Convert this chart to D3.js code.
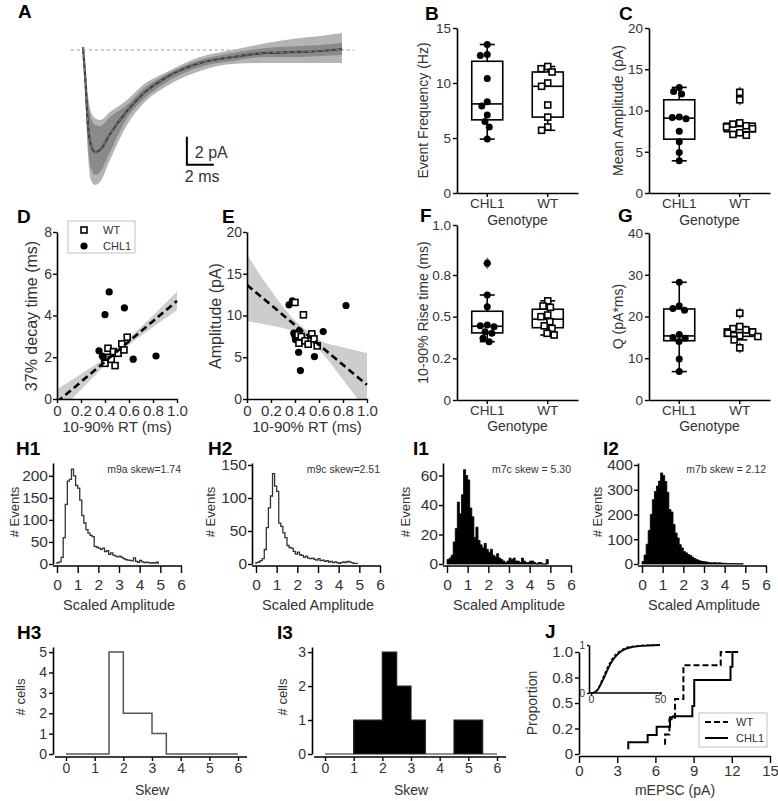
<!DOCTYPE html>
<html>
<head>
<meta charset="utf-8">
<script src="https://cdn.jsdelivr.net/npm/d3@7"></script>
<style>
  body { margin: 0; background: #fff; }
  svg text { font-family: "Liberation Sans", Arial, sans-serif; }
</style>
</head>
<body>
<script>
const FONT = '"Liberation Sans", Arial, sans-serif';

// ---- A: average mEPSC trace (ms, pA) ----
const traceT     = [0, 0.15, 0.37, 0.59, 0.89, 1.26, 2.0, 3.26, 4.44, 6.22, 8.67, 11.1, 13.6, 16.1, 17.6, 19.2];
const traceMean  = [0.21, -1.79, -5.36, -6.79, -7.29, -7.14, -6.0, -4.36, -3.14, -1.93, -0.93, -0.5, -0.21, -0.14, -0.07, 0.07];
const innerHi    = [0.29, -1.07, -3.57, -4.86, -5.36, -5.43, -4.79, -3.93, -2.79, -1.71, -0.71, -0.21, 0.14, 0.29, 0.36, 0.5];
const innerLo    = [0.14, -2.5, -6.79, -8.43, -8.93, -8.71, -7.29, -4.86, -3.57, -2.29, -1.21, -0.79, -0.5, -0.5, -0.43, -0.36];
const outerHi    = [0.36, -0.71, -3.21, -4.43, -4.86, -5.0, -4.43, -3.57, -2.5, -1.57, -0.5, 0.0, 0.5, 0.86, 1.0, 1.21];
const outerLo    = [0.07, -2.86, -7.5, -9.29, -9.64, -9.43, -7.86, -5.36, -3.86, -2.57, -1.5, -1.0, -0.93, -0.93, -0.93, -0.93];

// ---- box plots B, C, F, G ----
const groups  = ["CHL1", "WT"];
const freqChl = [4.9, 6.0, 6.5, 7.1, 7.9, 8.3, 10.4, 12.5, 12.6, 13.5];
const freqWt  = [5.7, 6.0, 6.9, 8.0, 9.7, 10.0, 11.0, 11.3, 11.5];
const ampChl  = [3.9, 4.9, 6.2, 7.5, 9.0, 9.15, 9.2, 12.0, 12.3, 12.8];
const ampWt   = [7.0, 7.1, 7.3, 7.8, 8.0, 8.15, 8.35, 8.5, 11.3, 12.2];
const riseChl = [0.35, 0.37, 0.40, 0.41, 0.44, 0.445, 0.45, 0.56, 0.63, 0.82];
const riseWt  = [0.39, 0.40, 0.43, 0.445, 0.47, 0.50, 0.51, 0.556, 0.564, 0.595];
const qChl    = [6.8, 9.8, 14.0, 14.8, 15.0, 15.7, 21.5, 21.9, 22.6, 28.2];
const qWt     = [12.5, 14.4, 15.2, 15.4, 16.0, 16.3, 16.8, 17.1, 17.6, 20.8];

// ---- scatter D, E ----
const rtWt     = [0.40, 0.425, 0.433, 0.452, 0.47, 0.484, 0.51, 0.54, 0.558, 0.585];
const decayWt  = [1.71, 2.43, 2.0, 1.9, 2.27, 1.6, 2.19, 2.64, 2.35, 2.96];
const ampEWt   = [11.56, 7.68, 6.68, 7.48, 10.08, 6.96, 6.56, 7.8, 7.2, 6.36];
const rtChl    = [0.35, 0.378, 0.39, 0.40, 0.405, 0.43, 0.435, 0.445, 0.562, 0.635, 0.825];
const decayChl = [2.31, 2.06, 1.95, 4.04, 1.85, 1.98, 5.13, 2.0, 4.37, 1.91, 2.06];
const ampEChl  = [11.28, 11.76, 7.88, 7.48, 7.1, 5.6, 8.16, 3.4, 5.08, 8.08, 11.2];
// regression fit and confidence band (WT)
const fitX = [0, 0.2, 0.4, 0.5, 0.6, 0.8, 1.0];
const dFit = [-0.15, 0.82, 1.79, 2.28, 2.76, 3.73, 4.7];
const dLo  = [-0.75, 0.45, 1.62, 2.15, 2.6, 3.45, 4.25];
const dHi  = [0.45, 1.2, 1.96, 2.4, 2.92, 4.0, 5.15];
const eFit = [13.65, 11.26, 8.87, 7.68, 6.48, 4.09, 1.7];
const eLo  = [9.3, 8.8, 8.0, 7.1, 5.9, 2.3, -1.5];
const eHi  = [17.3, 13.0, 9.4, 8.2, 7.1, 6.2, 5.5];

// ---- amplitude histograms (bins of 0.1 from 0) ----
const histH1 = [3, 5, 15, 60, 135, 188, 192, 215, 200, 178, 172, 145, 110, 93, 78, 70, 65, 62, 40, 38,
  36, 33, 36, 28, 30, 22, 25, 20, 18, 16, 18, 15, 12, 10, 9, 8, 7, 14, 6, 4, 8, 5, 3, 4, 3, 2, 3, 2, 4];
const histH2 = [2, 3, 5, 8, 22, 55, 85, 103, 137, 118, 110, 62, 57, 47, 40, 28, 25, 24, 19, 15,
  18, 14, 13, 10, 12, 9, 8, 9, 7, 6, 8, 5, 6, 4, 5, 3, 4, 2, 3, 2, 1, 2, 3, 2, 4, 3, 2, 1, 1];
const histI1 = [3, 4, 6, 15, 24, 42, 34, 47, 64, 60, 57, 38, 32, 18, 25, 16, 13, 11, 14, 10,
  8, 10, 6, 5, 7, 4, 3, 2, 1, 2, 4, 3, 4, 2, 2, 1, 4, 2, 1, 1, 2, 2, 1, 0, 1, 1, 0, 0, 3];
const histI2 = [10, 36, 80, 135, 200, 260, 293, 315, 335, 368, 358, 333, 290, 220, 210, 160, 125, 105, 78, 65,
  50, 45, 38, 35, 28, 22, 18, 15, 12, 10, 9, 8, 6, 5, 5, 6, 4, 5, 4, 3, 3, 2, 2, 2, 2, 1, 1, 1, 1];

// ---- skew histograms (bins of 0.5 from 0) ----
const skewWt  = [0, 0, 0, 5, 2, 2, 1, 0, 0, 0, 0, 0];
const skewChl = [0, 0, 1, 1, 3, 2, 1, 0, 0, 1, 1, 0];

// ---- J: cumulative distributions ----
const jWtX  = [6.76, 7.1, 7.54, 8.2, 11.13, 12.0];
const jWtY  = [0.09, 0.19, 0.34, 0.54, 0.87, 1.0];
const jChlX = [3.87, 5.39, 6.1, 7.15, 7.4, 8.9, 9.05, 11.9, 12.05, 12.5];
const jChlY = [0.046, 0.115, 0.186, 0.268, 0.36, 0.37, 0.47, 0.725, 0.856, 1.0];
const insetX   = [0, 2, 4, 6, 8, 10, 12, 15, 18, 22, 26, 30, 36, 42, 50];
const insetChl = [0, 0.01, 0.04, 0.12, 0.23, 0.35, 0.48, 0.65, 0.77, 0.87, 0.93, 0.96, 0.98, 0.99, 1.0];
const insetWt  = [0, 0.01, 0.05, 0.15, 0.28, 0.41, 0.54, 0.70, 0.81, 0.90, 0.95, 0.97, 0.99, 1.0, 1.0];

const svg = d3.select("body").append("svg").attr("width", 778).attr("height", 801);
const intFmt = d3.format("d");

function text(x, y, s, o = {}) {
  const t = svg.append("text").attr("x", x).attr("y", y).text(s)
    .attr("font-size", o.size || 14)
    .attr("text-anchor", o.anchor || "start")
    .attr("fill", o.fill || "#333");
  if (o.bold) t.attr("font-weight", "bold");
  if (o.rot) t.attr("transform", `rotate(${o.rot},${x},${y})`).attr("dy", "0.35em");
  return t;
}
function letter(x, y, s) { text(x, y, s, { size: 19, bold: true, fill: "#000" }); }

function styleAxis(sel, size) {
  sel.attr("font-family", FONT).attr("font-size", size);
  sel.select(".domain").attr("stroke", "#000").attr("stroke-width", 1.6);
  sel.selectAll(".tick line").attr("stroke", "#000").attr("stroke-width", 1.4);
  sel.selectAll(".tick text").attr("fill", "#333");
}

// ===== A =====
(function () {
  const x = d3.scaleLinear().domain([0, 19.2]).range([83, 342]);
  const y = d3.scaleLinear().domain([0, -8]).range([50, 162]);
  const idx = d3.range(traceT.length);
  const area = (lo, hi) => d3.area().x(i => x(traceT[i])).y0(i => y(lo[i])).y1(i => y(hi[i])).curve(d3.curveMonotoneX);
  svg.append("line").attr("x1", x(-0.9)).attr("x2", x(20.1)).attr("y1", y(0)).attr("y2", y(0))
    .attr("stroke", "#999").attr("stroke-width", 1).attr("stroke-dasharray", "3,3");
  svg.append("path").attr("d", area(outerLo, outerHi)(idx)).attr("fill", "#b4b4b4");
  svg.append("path").attr("d", area(innerLo, innerHi)(idx)).attr("fill", "#8a8a8a");
  const line = d3.line().x(i => x(traceT[i])).y(i => y(traceMean[i])).curve(d3.curveMonotoneX);
  svg.append("path").attr("d", line(idx)).attr("fill", "none").attr("stroke", "#3c3c3c").attr("stroke-width", 2.2);
  svg.append("path").attr("d", line(idx)).attr("fill", "none").attr("stroke", "#888").attr("stroke-width", 1).attr("stroke-dasharray", "4,3");
  // scale bar 2 pA / 2 ms
  svg.append("path").attr("d", `M${x(7.7)},${y(-6.2)}V${y(-8.2)}H${x(9.7)}`)
    .attr("fill", "none").attr("stroke", "#000").attr("stroke-width", 2);
  text(x(7.7) + 8, 158, "2 pA", { size: 16 });
  text(x(7.7) - 2, 182, "2 ms", { size: 16 });
  letter(18, 18, "A");
})();

// ===== box plots =====
function swarm(vals, y, cx, d) {
  const pts = vals.map(v => ({ v, y: y(v) })).sort((a, b) => a.y - b.y);
  const placed = [];
  pts.forEach(p => {
    const blocks = placed.filter(q => Math.abs(q.y - p.y) < d).map(q => {
      const w = Math.sqrt(d * d - (q.y - p.y) ** 2);
      return [q.x - w, q.x + w];
    });
    const cands = [cx];
    blocks.forEach(b => cands.push(b[0], b[1]));
    const ok = cands.filter(c => blocks.every(b => c <= b[0] + 0.01 || c >= b[1] - 0.01));
    ok.sort((a, b) => Math.abs(a - cx) - Math.abs(b - cx) || a - b);
    p.x = ok[0];
    placed.push(p);
  });
  return pts;
}

function boxPanel(o) {
  const x = d3.scaleBand().domain(groups).range([o.x0, o.x1]);
  const y = d3.scaleLinear().domain(o.domain).range([o.yb, o.yt]);
  const ya = svg.append("g").attr("transform", `translate(${o.x0},0)`)
    .call(d3.axisLeft(y).tickValues(o.ticks).tickFormat((d, i) => o.tickText[i]).tickSize(4).tickPadding(2).tickSizeOuter(0));
  styleAxis(ya, 13.5);
  const xa = svg.append("g").attr("transform", `translate(0,${o.yb})`)
    .call(d3.axisBottom(x).tickSize(4).tickPadding(1).tickSizeOuter(0));
  styleAxis(xa, 13.5);

  [o.chl, o.wt].forEach((vals, k) => {
    const cx = x(groups[k]) + x.bandwidth() / 2;
    const s = vals.slice().sort(d3.ascending);
    const q1 = d3.quantile(s, 0.25), q2 = d3.quantile(s, 0.5), q3 = d3.quantile(s, 0.75);
    const iqr = q3 - q1;
    const inside = s.filter(v => v >= q1 - 1.5 * iqr && v <= q3 + 1.5 * iqr);
    const wLo = d3.min(inside), wHi = d3.max(inside);
    const outl = s.filter(v => v < q1 - 1.5 * iqr || v > q3 + 1.5 * iqr);
    const bw = 31, cw = 15;
    const g = svg.append("g").attr("stroke", "#000").attr("stroke-width", 1.6);
    g.append("line").attr("x1", cx).attr("x2", cx).attr("y1", y(q3)).attr("y2", y(wHi));
    g.append("line").attr("x1", cx).attr("x2", cx).attr("y1", y(q1)).attr("y2", y(wLo));
    g.append("line").attr("x1", cx - cw / 2).attr("x2", cx + cw / 2).attr("y1", y(wHi)).attr("y2", y(wHi));
    g.append("line").attr("x1", cx - cw / 2).attr("x2", cx + cw / 2).attr("y1", y(wLo)).attr("y2", y(wLo));
    g.append("rect").attr("x", cx - bw / 2).attr("y", y(q3)).attr("width", bw).attr("height", y(q1) - y(q3)).attr("fill", "#fff");
    g.append("line").attr("x1", cx - bw / 2).attr("x2", cx + bw / 2).attr("y1", y(q2)).attr("y2", y(q2));
    outl.forEach(v => {
      svg.append("path").attr("d", `M${cx},${y(v) - 6}L${cx + 4},${y(v)}L${cx},${y(v) + 6}L${cx - 4},${y(v)}Z`).attr("fill", "#6e6e6e");
    });
    swarm(vals, y, cx, 7).forEach(p => {
      if (k === 0) svg.append("circle").attr("cx", p.x).attr("cy", p.y).attr("r", 3.5).attr("fill", "#000");
      else svg.append("rect").attr("x", p.x - 3).attr("y", p.y - 3).attr("width", 6).attr("height", 6)
        .attr("fill", "#fff").attr("stroke", "#000").attr("stroke-width", 1.6);
    });
  });
  text(o.ylx, (o.yb + o.yt) / 2, o.ylabel, { size: 14, anchor: "middle", rot: -90 });
  text((o.x0 + o.x1) / 2, o.xly, "Genotype", { size: 14, anchor: "middle" });
  letter(o.lx, o.ly, o.letter);
}

boxPanel({ x0: 457, x1: 578, yb: 193, yt: 28, domain: [0, 15], ticks: [0, 5, 10, 15], tickText: ["0", "5", "10", "15"],
  chl: freqChl, wt: freqWt, ylabel: "Event Frequency (Hz)", ylx: 423, xly: 225, letter: "B", lx: 425, ly: 20 });
boxPanel({ x0: 649, x1: 770, yb: 193, yt: 28, domain: [0, 20], ticks: [0, 5, 10, 15, 20], tickText: ["0", "5", "10", "15", "20"],
  chl: ampChl, wt: ampWt, ylabel: "Mean Amplitude (pA)", ylx: 618, xly: 225, letter: "C", lx: 619, ly: 20 });
boxPanel({ x0: 457, x1: 578, yb: 400, yt: 225, domain: [0, 1.05], ticks: [0, 0.25, 0.5, 0.75, 1.05], tickText: ["0", "0.2", "0.5", "0.8", "1.0"],
  chl: riseChl, wt: riseWt, ylabel: "10-90% Rise time (ms)", ylx: 423, xly: 431, letter: "F", lx: 420, ly: 222 });
boxPanel({ x0: 649, x1: 770, yb: 400, yt: 233, domain: [0, 40], ticks: [0, 10, 20, 30, 40], tickText: ["0", "10", "20", "30", "40"],
  chl: qChl, wt: qWt, ylabel: "Q (pA*ms)", ylx: 618, xly: 431, letter: "G", lx: 618, ly: 222 });

// ===== scatter D, E =====
function scatterPanel(o) {
  const x = d3.scaleLinear().domain([0, 1]).range([o.x0, o.x0 + 120]);
  const y = d3.scaleLinear().domain([0, o.ymax]).range([399, 232]);
  const clipId = "clip" + o.letter;
  svg.append("clipPath").attr("id", clipId).append("rect")
    .attr("x", x(0)).attr("y", y(o.ymax)).attr("width", x(1) - x(0) + 3).attr("height", y(0) - y(o.ymax));
  const idx = d3.range(fitX.length);
  svg.append("path").attr("clip-path", `url(#${clipId})`)
    .attr("d", d3.area().x(i => x(fitX[i])).y0(i => y(o.lo[i])).y1(i => y(o.hi[i])).curve(d3.curveMonotoneX)(idx))
    .attr("fill", "#cdcdcd");
  const xa = svg.append("g").attr("transform", "translate(0,399)")
    .call(d3.axisBottom(x).tickValues([0, 0.2, 0.4, 0.6, 0.8, 1]).tickFormat(d => d === 0 ? "0" : d3.format(".1f")(d)).tickSize(4).tickPadding(2).tickSizeOuter(0));
  styleAxis(xa, 15);
  const ya = svg.append("g").attr("transform", `translate(${o.x0},0)`)
    .call(d3.axisLeft(y).tickValues(o.ticks).tickFormat(intFmt).tickSize(4).tickPadding(1).tickSizeOuter(0));
  styleAxis(ya, 14);
  o.chlY.forEach((v, i) => svg.append("circle").attr("cx", x(rtChl[i])).attr("cy", y(v)).attr("r", 3.6).attr("fill", "#000"));
  o.wtY.forEach((v, i) => svg.append("rect").attr("x", x(rtWt[i]) - 3).attr("y", y(v) - 3).attr("width", 6).attr("height", 6)
    .attr("fill", "#fff").attr("stroke", "#000").attr("stroke-width", 1.6));
  svg.append("path").attr("clip-path", `url(#${clipId})`)
    .attr("d", d3.line().x(i => x(fitX[i])).y(i => y(o.fit[i]))(idx))
    .attr("fill", "none").attr("stroke", "#000").attr("stroke-width", 2.6).attr("stroke-dasharray", "7,4");
  text(o.ylx, 316, o.ylabel, { size: 16, anchor: "middle", rot: -90 });
  text(o.x0 + 60, 432, "10-90% RT (ms)", { size: 15, anchor: "middle" });
  letter(o.lx, 223, o.letter);
}
scatterPanel({ x0: 57, ymax: 8, ticks: [0, 2, 4, 6, 8], lo: dLo, hi: dHi, fit: dFit, chlY: decayChl, wtY: decayWt,
  ylabel: "37% decay time (ms)", ylx: 31, letter: "D", lx: 17 });
scatterPanel({ x0: 247, ymax: 20, ticks: [0, 5, 10, 15, 20], lo: eLo, hi: eHi, fit: eFit, chlY: ampEChl, wtY: ampEWt,
  ylabel: "Amplitude (pA)", ylx: 215, letter: "E", lx: 222 });

// legend in D
svg.append("rect").attr("x", 68).attr("y", 221).attr("width", 67).attr("height", 32)
  .attr("fill", "#fff").attr("stroke", "#ccc").attr("stroke-width", 1.2);
svg.append("rect").attr("x", 81).attr("y", 227).attr("width", 6).attr("height", 6)
  .attr("fill", "#fff").attr("stroke", "#000").attr("stroke-width", 1.6);
svg.append("circle").attr("cx", 84).attr("cy", 246).attr("r", 3.6).attr("fill", "#000");
text(103, 234, "WT", { size: 11 });
text(103, 250, "CHL1", { size: 11 });

// ===== amplitude histograms =====
function histPanel(o) {
  const x = d3.scaleLinear().domain([0, 6]).range([o.yAxisX + 4, o.yAxisX + 128]);
  const y = d3.scaleLinear().domain([0, o.ymax]).range([564, 463]);
  const pts = [[0, 0]];
  o.counts.forEach((c, i) => pts.push([i * 0.1, c]));
  pts.push([o.counts.length * 0.1, 0]);
  const line = d3.line().x(d => x(d[0])).y(d => y(d[1])).curve(d3.curveStepAfter);
  if (o.filled) svg.append("path").attr("d", line(pts) + "Z").attr("fill", "#000").attr("stroke", "#000").attr("stroke-width", 0.8);
  else svg.append("path").attr("d", line(pts)).attr("fill", "none").attr("stroke", "#333").attr("stroke-width", 1.3);
  const ya = svg.append("g").attr("transform", `translate(${o.yAxisX},0)`)
    .call(d3.axisLeft(y).tickValues(o.ticks).tickFormat(intFmt).tickSize(4).tickPadding(1).tickSizeOuter(0));
  styleAxis(ya, 15.5);
  const xa = svg.append("g").attr("transform", "translate(0,566)")
    .call(d3.axisBottom(x).tickValues(d3.range(7)).tickFormat(intFmt).tickSize(7).tickPadding(6).tickSizeOuter(0));
  styleAxis(xa, 15.5);
  xa.select(".domain").attr("d", `M${o.yAxisX},0H${x(6) + 1}`);
  text(x(6), 473, o.note, { size: 10.5, anchor: "end" });
  text(o.ylx, 512, "# Events", { size: 13, anchor: "middle", rot: -90 });
  text((x(0) + x(6)) / 2, 610, "Scaled Amplitude", { size: 14.5, anchor: "middle" });
  letter(o.lx, 455, o.letter);
}
histPanel({ yAxisX: 53, counts: histH1, ymax: 229, ticks: [0, 50, 100, 150, 200], note: "m9a skew=1.74", ylx: 14, letter: "H1", lx: 16 });
histPanel({ yAxisX: 252, counts: histH2, ymax: 153, ticks: [0, 50, 100, 150], note: "m9c skew=2.51", ylx: 210, letter: "H2", lx: 208 });
histPanel({ yAxisX: 443, counts: histI1, ymax: 68.5, ticks: [0, 20, 40, 60], filled: true, note: "m7c skew = 5.30", ylx: 405, letter: "I1", lx: 413 });
histPanel({ yAxisX: 638, counts: histI2, ymax: 408, ticks: [0, 100, 200, 300, 400], filled: true, note: "m7b skew = 2.12", ylx: 597, letter: "I2", lx: 603 });

// ===== skew histograms =====
function skewPanel(o) {
  const x = d3.scaleLinear().domain([0, 6]).range([o.yAxisX + 13, o.yAxisX + 185]);
  const y = d3.scaleLinear().domain([0, o.ymax]).range([754, 647]);
  const pts = [[0, 0]];
  o.counts.forEach((c, i) => pts.push([i * 0.5, c]));
  pts.push([o.counts.length * 0.5, 0]);
  const line = d3.line().x(d => x(d[0])).y(d => y(d[1])).curve(d3.curveStepAfter);
  if (o.filled) svg.append("path").attr("d", line(pts) + "Z").attr("fill", "#000").attr("stroke", "#222").attr("stroke-width", 1.2);
  else svg.append("path").attr("d", line(pts)).attr("fill", "none").attr("stroke", "#555").attr("stroke-width", 1.5);
  const ya = svg.append("g").attr("transform", `translate(${o.yAxisX},0)`)
    .call(d3.axisLeft(y).tickValues(d3.range(o.top + 1)).tickFormat(intFmt).tickSize(4).tickPadding(2).tickSizeOuter(0));
  styleAxis(ya, 14);
  const xa = svg.append("g").attr("transform", "translate(0,757)")
    .call(d3.axisBottom(x).tickValues(d3.range(7)).tickFormat(intFmt).tickSize(4).tickPadding(2).tickSizeOuter(0));
  styleAxis(xa, 14);
  xa.select(".domain").attr("d", `M${o.yAxisX + 2},0H${x(6) + 9}`);
  text(o.ylx, 697, "# cells", { size: 13, anchor: "middle", rot: -90 });
  text((x(0) + x(6)) / 2, 795, "Skew", { size: 14, anchor: "middle" });
  letter(o.lx, 639, o.letter);
}
skewPanel({ yAxisX: 53, counts: skewWt, ymax: 5.25, top: 5, ylx: 20, letter: "H3", lx: 17 });
skewPanel({ yAxisX: 312, counts: skewChl, ymax: 3.15, top: 3, filled: true, ylx: 282, letter: "I3", lx: 277 });

// ===== J =====
(function () {
  const x = d3.scaleLinear().domain([0, 15]).range([579, 770]);
  const y = d3.scaleLinear().domain([0, 1]).range([754, 652]);
  const ya = svg.append("g").attr("transform", "translate(579,0)")
    .call(d3.axisLeft(y).tickValues([0, 0.25, 0.5, 0.75, 1]).tickFormat((d, i) => ["0", "0.2", "0.5", "0.8", "1.0"][i]).tickSize(4).tickPadding(2).tickSizeOuter(0));
  styleAxis(ya, 15);
  const xa = svg.append("g").attr("transform", "translate(0,756)")
    .call(d3.axisBottom(x).tickValues([0, 3, 6, 9, 12, 15]).tickFormat(intFmt).tickSize(7).tickPadding(2).tickSizeOuter(0));
  styleAxis(xa, 15);
  const step = (xs, ys) => d3.line().x((d, i) => x(xs[i])).y((d, i) => y(ys[i])).curve(d3.curveStepBefore)(xs);
  svg.append("path").attr("d", step(jChlX, jChlY)).attr("fill", "none").attr("stroke", "#000").attr("stroke-width", 2);
  svg.append("path").attr("d", step(jWtX, jWtY)).attr("fill", "none").attr("stroke", "#000").attr("stroke-width", 2).attr("stroke-dasharray", "6,3");

  // inset
  const xi = d3.scaleLinear().domain([0, 50]).range([591, 660]);
  const yi = d3.scaleLinear().domain([0, 1]).range([693, 645]);
  const cdf = ys => d3.line().x((d, i) => xi(insetX[i])).y((d, i) => yi(ys[i])).curve(d3.curveMonotoneX)(insetX);
  svg.append("path").attr("d", cdf(insetChl)).attr("fill", "none").attr("stroke", "#000").attr("stroke-width", 1.8);
  svg.append("path").attr("d", cdf(insetWt)).attr("fill", "none").attr("stroke", "#000").attr("stroke-width", 1.2).attr("stroke-dasharray", "3,2");
  const yia = svg.append("g").attr("transform", "translate(589,0)")
    .call(d3.axisLeft(yi).tickValues([0, 1]).tickFormat(intFmt).tickSize(2).tickPadding(2).tickSizeOuter(0));
  styleAxis(yia, 10);
  const xia = svg.append("g").attr("transform", "translate(0,693)")
    .call(d3.axisBottom(xi).tickValues([0, 50]).tickFormat(intFmt).tickSize(2).tickPadding(1).tickSizeOuter(0));
  styleAxis(xia, 10.5);
  xia.select(".domain").attr("d", "M589,0H662");

  // legend
  svg.append("rect").attr("x", 699).attr("y", 713).attr("width", 68).attr("height", 34)
    .attr("fill", "#fff").attr("stroke", "#ccc").attr("stroke-width", 1.2);
  svg.append("line").attr("x1", 705).attr("x2", 728).attr("y1", 722).attr("y2", 722)
    .attr("stroke", "#000").attr("stroke-width", 2).attr("stroke-dasharray", "6,3");
  svg.append("line").attr("x1", 705).attr("x2", 728).attr("y1", 738).attr("y2", 738)
    .attr("stroke", "#000").attr("stroke-width", 2);
  text(736, 726, "WT", { size: 11 });
  text(736, 742, "CHL1", { size: 11 });

  text(532, 703, "Proportion", { size: 14, anchor: "middle", rot: -90 });
  text(675, 795, "mEPSC (pA)", { size: 14, anchor: "middle" });
  letter(545, 638, "J");
})();
</script>
</body>
</html>
